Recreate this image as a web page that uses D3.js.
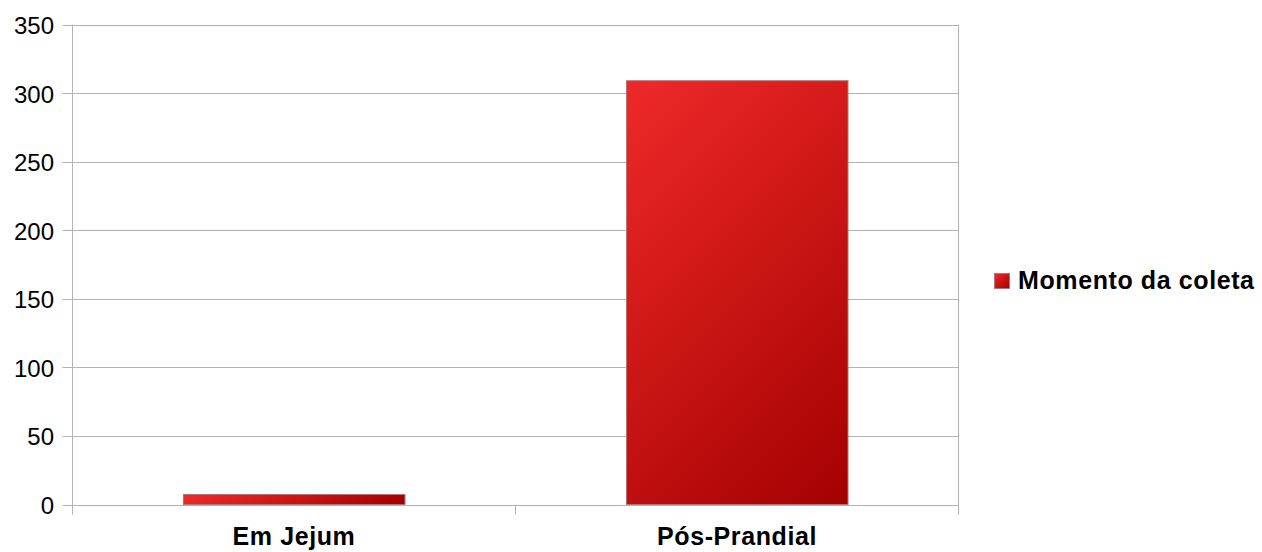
<!DOCTYPE html>
<html><head><meta charset="utf-8">
<script src="https://cdn.jsdelivr.net/npm/d3@7"></script>
<style>body{margin:0;background:#fff}svg{display:block}text{font-family:"Liberation Sans",Arial,sans-serif}</style>
</head><body>
<script>
const categories = ["Em Jejum", "Pós-Prandial"];
const values = [7.3, 309];
const yTicks = [0, 50, 100, 150, 200, 250, 300, 350];
const seriesName = "Momento da coleta";

const W = 1262, H = 552;
const m = {left: 72.5, top: 24.5, right: 958.5, bottom: 504.5};
const svg = d3.select("body").append("svg").attr("width", W).attr("height", H);
const defs = svg.append("defs");

function makeGrad(id, x0, y0, w, h) {
  const d = (w + h) / 2;
  const g = defs.append("linearGradient").attr("id", id).attr("gradientUnits", "userSpaceOnUse")
    .attr("x1", x0).attr("y1", y0).attr("x2", x0 + d).attr("y2", y0 + d);
  g.append("stop").attr("offset", 0).attr("stop-color", "#ef2929");
  g.append("stop").attr("offset", 1).attr("stop-color", "#a40000");
  return "url(#" + id + ")";
}

const x = d3.scaleBand().domain(categories).range([m.left, m.right]).paddingInner(0).paddingOuter(0);
const y = d3.scaleLinear().domain([0, 350]).range([m.bottom, m.top]);

svg.append("g").selectAll("line").data(yTicks).join("line")
  .attr("x1", m.left - 10).attr("x2", m.right)
  .attr("y1", d => Math.round(y(d)) + 0.5).attr("y2", d => Math.round(y(d)) + 0.5)
  .attr("stroke", "#b3b3b3").attr("stroke-width", 1);
svg.append("line").attr("x1", m.left).attr("x2", m.left).attr("y1", m.top).attr("y2", m.bottom + 10)
  .attr("stroke", "#b3b3b3");
svg.append("line").attr("x1", m.right).attr("x2", m.right).attr("y1", m.top).attr("y2", m.bottom + 10)
  .attr("stroke", "#b3b3b3");
svg.append("g").selectAll("line").data(categories).join("line")
  .attr("x1", d => x(d) + x.bandwidth()).attr("x2", d => x(d) + x.bandwidth())
  .attr("y1", m.bottom).attr("y2", m.bottom + 10).attr("stroke", "#b3b3b3");

svg.append("g").selectAll("text").data(yTicks).join("text")
  .attr("x", 54).attr("y", d => y(d) + 9.5).attr("text-anchor", "end")
  .attr("font-size", 24).attr("fill", "#000").text(d => d);

const bw = x.bandwidth() / 2;
svg.append("g").selectAll("rect").data(values).join("rect")
  .each(function(d, i) {
    const bx = Math.round(x(categories[i]) + x.bandwidth() / 4) + 0.5;
    const by = y(d), bh = y(0) - y(d);
    d3.select(this).attr("x", bx).attr("y", by).attr("width", bw).attr("height", bh)
      .attr("fill", makeGrad("g" + i, bx, by, bw, bh));
  })
  .attr("stroke", "#b07474").attr("stroke-width", 1);

svg.append("g").selectAll("text").data(categories).join("text")
  .attr("x", d => x(d) + x.bandwidth() / 2).attr("y", 544.5).attr("text-anchor", "middle")
  .attr("font-size", 25).attr("letter-spacing", "0.6px").attr("font-weight", "bold").attr("fill", "#000").text(d => d);

svg.append("rect").attr("x", 994.5).attr("y", 273.5).attr("width", 15).attr("height", 15)
  .attr("fill", makeGrad("gl", 994.5, 273.5, 15, 15)).attr("stroke", "#b07474");
svg.append("text").attr("x", 1018).attr("y", 289).attr("font-size", 25).attr("letter-spacing", "0.6px").attr("font-weight", "bold")
  .attr("fill", "#000").text(seriesName);
</script>
</body></html>
